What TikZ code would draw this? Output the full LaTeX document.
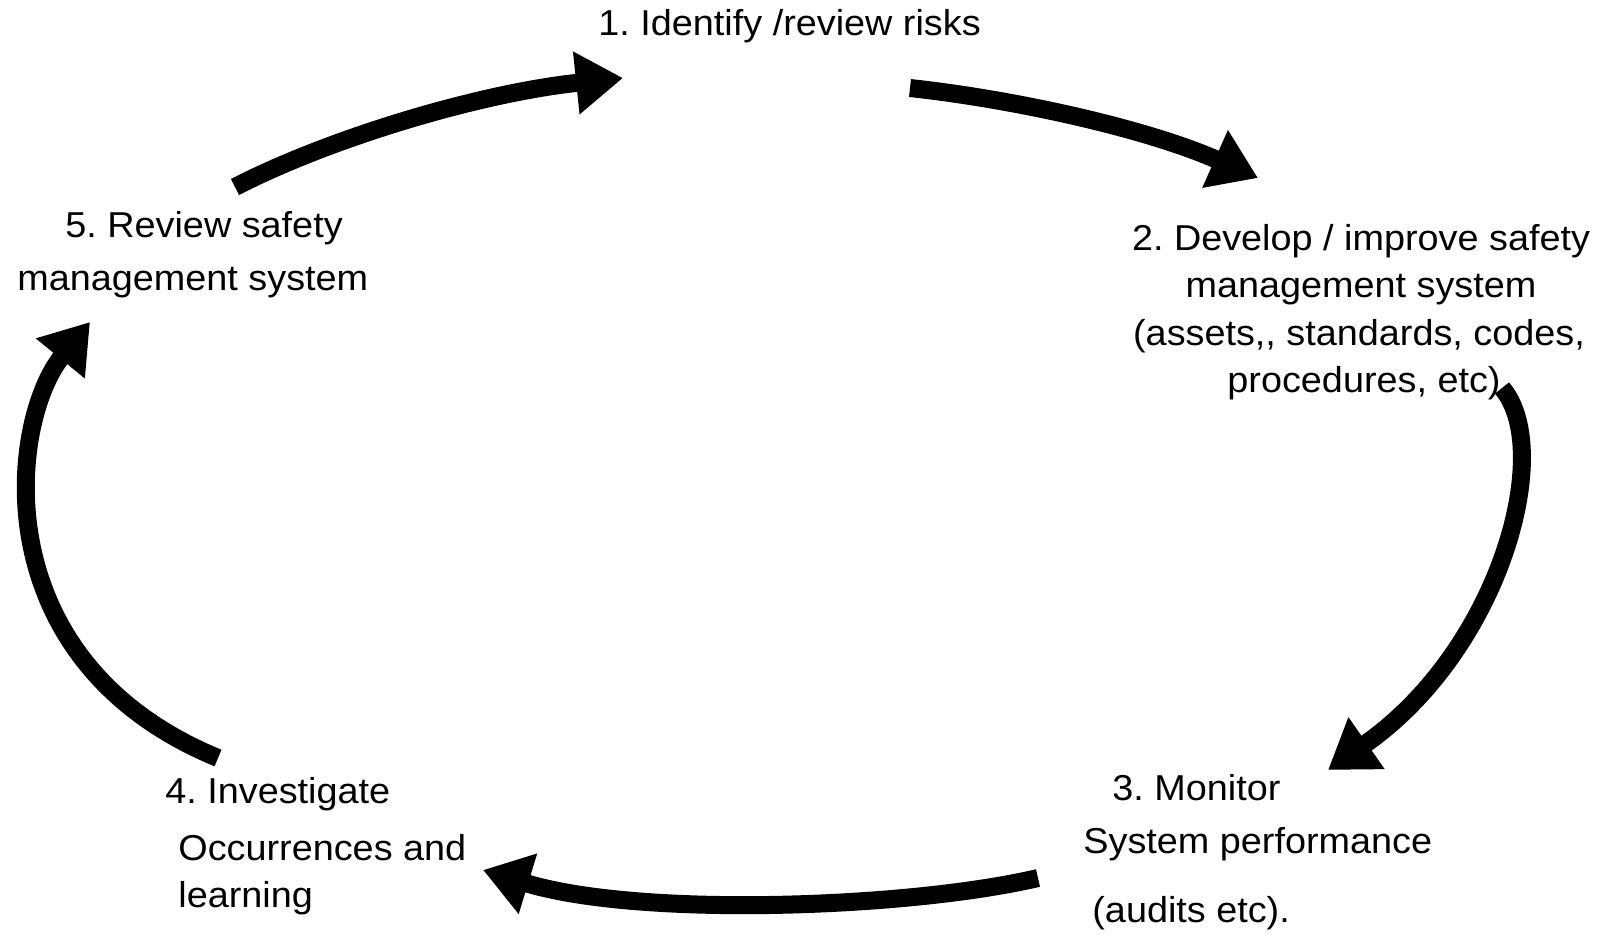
\documentclass[tikz,border=0pt]{standalone}
\usepackage{fontspec}
\setmainfont{Liberation Sans}[FakeStretch=1.05]
\usetikzlibrary{arrows.meta}
\frenchspacing

\begin{document}
\begin{tikzpicture}[x=0.5pt,y=-0.5pt,
  lbl/.style={inner sep=0pt, font=\fontsize{18pt}{22pt}\selectfont},
  lblw/.style={lbl, anchor=base west},
  lblc/.style={lbl, anchor=base},
  cyclearrow/.style={line width=9pt, -{Triangle[length=23.5pt,width=30pt]}}]

\useasboundingbox (0,0) rectangle (1602,934);

% step labels
\node[lblw] (t1) at (598,35) {1. Identify /review risks};

\node[lblc] (t2a) at (1361,250) {2. Develop / improve safety};
\node[lblc] (t2b) at (1361,297) {management system};
\node[lblc] (t2c) at (1359,345) {(assets,{}, standards, codes,};
\node[lblc] (t2d) at (1364,392) {procedures, etc)};

\node[lblw] (t3a) at (1112,800) {3. Monitor};
\node[lblw] (t3b) at (1083,853) {System performance};
\node[lblw] (t3c) at (1092,922) {(audits etc).};

\node[lblw] (t4a) at (165,803) {4. Investigate};
\node[lblw] (t4b) at (178,860) {Occurrences and};
\node[lblw] (t4c) at (178,907) {learning};

\node[lblw] (t5a) at (65,237) {5. Review safety};
\node[lblw] (t5b) at (17,290) {management system};

% arrow end points
\coordinate (a1s) at (235,187);  \coordinate (a1e) at (623,78);
\coordinate (a2s) at (910,88);   \coordinate (a2e) at (1258,178);
\coordinate (a3s) at (1502,388); \coordinate (a3e) at (1328,770);
\coordinate (a4s) at (1038,878); \coordinate (a4e) at (483,870);
\coordinate (a5s) at (218,758);  \coordinate (a5e) at (90,322);

% the cycle
\draw[cyclearrow] (a1s) .. controls (330,138) and (480,93) .. (a1e);
\draw[cyclearrow] (a2s) .. controls (1020,100) and (1150,130) .. (a2e);
\draw[cyclearrow] (a3s) .. controls (1555,450) and (1500,650) .. (a3e);
\draw[cyclearrow] (a4s) .. controls (910,908) and (640,918) .. (a4e);
\draw[cyclearrow] (a5s) .. controls (-20,660) and (10,420) .. (a5e);
\end{tikzpicture}
\end{document}
